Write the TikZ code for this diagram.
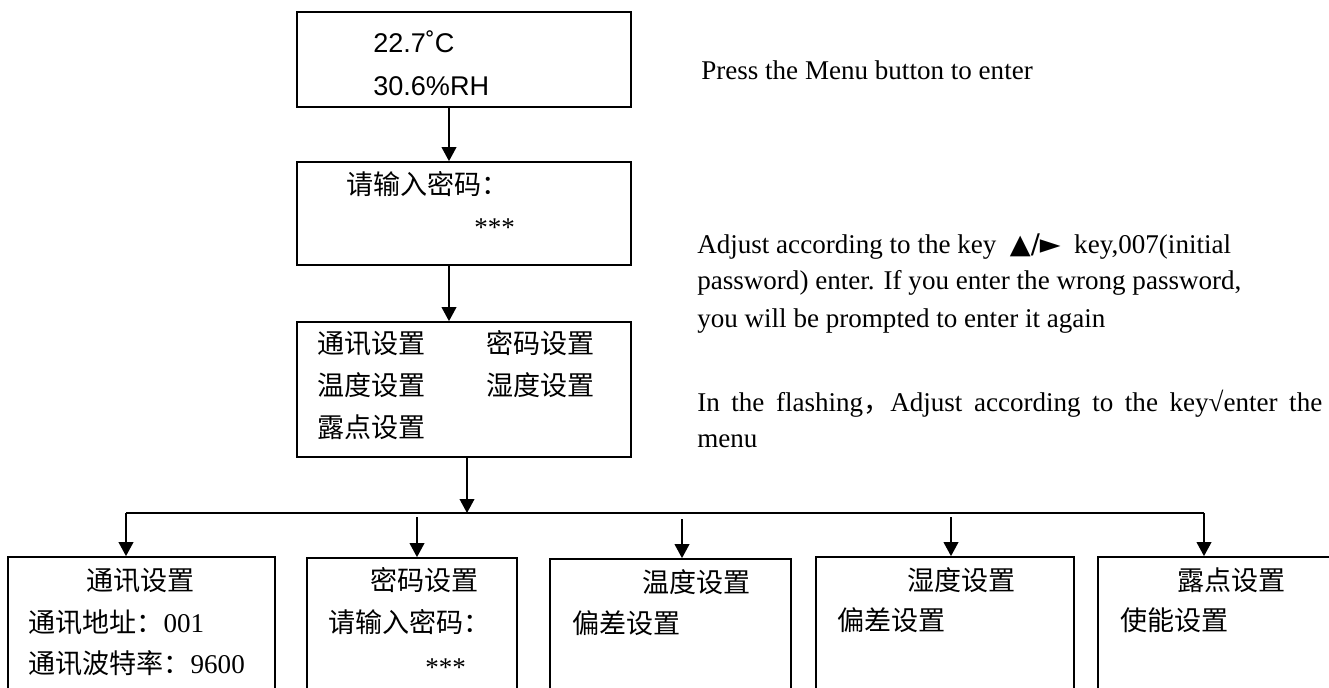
\documentclass[tikz,border=0pt]{standalone}
\usepackage{fontspec}
\setmainfont{Liberation Serif}
\newfontfamily\cjk{Noto Sans CJK SC}
\newfontfamily\arialf{Liberation Sans}
\newfontfamily\symf{DejaVu Sans}
\usetikzlibrary{arrows.meta,fit}

\begin{document}
\begin{tikzpicture}[x=0.75pt,y=-0.75pt,
  box/.style={draw,line width=1.3pt,inner sep=0pt},
  arr/.style={line width=1.3pt,-{Triangle[length=10.5pt,width=11pt]}},
  bus/.style={line width=1.3pt},
  txt/.style={anchor=base west,inner sep=0pt,font=\fontsize{20.3pt}{24pt}\selectfont},
  cn/.style={txt,font=\fontsize{20.3pt}{24pt}\selectfont\cjk},
  sans/.style={txt,font=\fontsize{20.3pt}{24pt}\selectfont\arialf},
]
\clip (0,0) rectangle (1329,688);

% upper screens
\node[box,fit={(297,12) (631,107)}] (b1) {};
\node[box,fit={(297,162) (631,265)}] (b2) {};
\node[box,fit={(297,322) (631,457)}] (b3) {};

\node[sans] (t1a) at (373,53) {22.7˚C};
\node[sans] (t1b) at (373,96) {30.6\%RH};

\node[cn] (t2a) at (346,195) {请输入密码：};
\node[txt] (t2b) at (474,237) {***};

\node[cn] (t3a) at (317,353) {通讯设置};
\node[cn] (t3b) at (486,353) {密码设置};
\node[cn] (t3c) at (317,395) {温度设置};
\node[cn] (t3d) at (486,395) {湿度设置};
\node[cn] (t3e) at (317,437) {露点设置};

% sub-menu screens
\node[box,fit={(8,557) (275,700)}] (d1) {};
\node[box,fit={(307,558) (517,700)}] (d2) {};
\node[box,fit={(550,559) (791,700)}] (d3) {};
\node[box,fit={(816,557) (1074,700)}] (d4) {};
\node[box,fit={(1098,557) (1345,700)}] (d5) {};

\node[cn] (s1a) at (86,590) {通讯设置};
\node[txt] (s1b) at (28,632) {{\cjk 通讯地址：}001};
\node[txt] (s1c) at (28,673) {{\cjk 通讯波特率：}9600};

\node[cn] (s2a) at (370,590) {密码设置};
\node[cn] (s2b) at (328,632) {请输入密码：};
\node[txt] (s2c) at (425,676) {***};

\node[cn] (s3a) at (642,592) {温度设置};
\node[cn] (s3b) at (572,633) {偏差设置};

\node[cn] (s4a) at (907,590) {湿度设置};
\node[cn] (s4b) at (837,630) {偏差设置};

\node[cn] (s5a) at (1177,590) {露点设置};
\node[cn] (s5b) at (1120,630) {使能设置};

% notes
\node[txt] (n1) at (701,80) {Press the Menu button to enter};
\node[txt] (n2a) at (697,254) {Adjust according to the key \ {\symf ▲/►}\ \ key,007(initial};
\node[txt] (n2b) at (697,290) {password) enter. If you enter the wrong password,};
\node[txt] (n2c) at (697,327) {you will be prompted to enter it again};
\node[txt] (n3a) at (697,411) {\makebox[468.75pt][s]{In the flashing{\cjk ，}Adjust according to the key√enter the}};
\node[txt] (n3b) at (697,447) {menu};

% connectors
\coordinate (v1) at (449,0);
\coordinate (hub) at (467,513);
\coordinate (busL) at (126,513);
\coordinate (busR) at (1204,513);
\coordinate (k2) at (417,517);
\coordinate (k3) at (682,519);
\coordinate (k4) at (951,517);

\draw[arr] (b1.south -| v1) -- (b2.north -| v1);
\draw[arr] (b2.south -| v1) -- (b3.north -| v1);
\draw[arr] (b3.south -| hub) -- (hub);
\draw[bus] (busL) -- (busR);
\draw[arr] (busL) -- (busL |- d1.north);
\draw[arr] (k2) -- (k2 |- d2.north);
\draw[arr] (k3) -- (k3 |- d3.north);
\draw[arr] (k4) -- (k4 |- d4.north);
\draw[arr] (busR) -- (busR |- d5.north);
\end{tikzpicture}
\end{document}
